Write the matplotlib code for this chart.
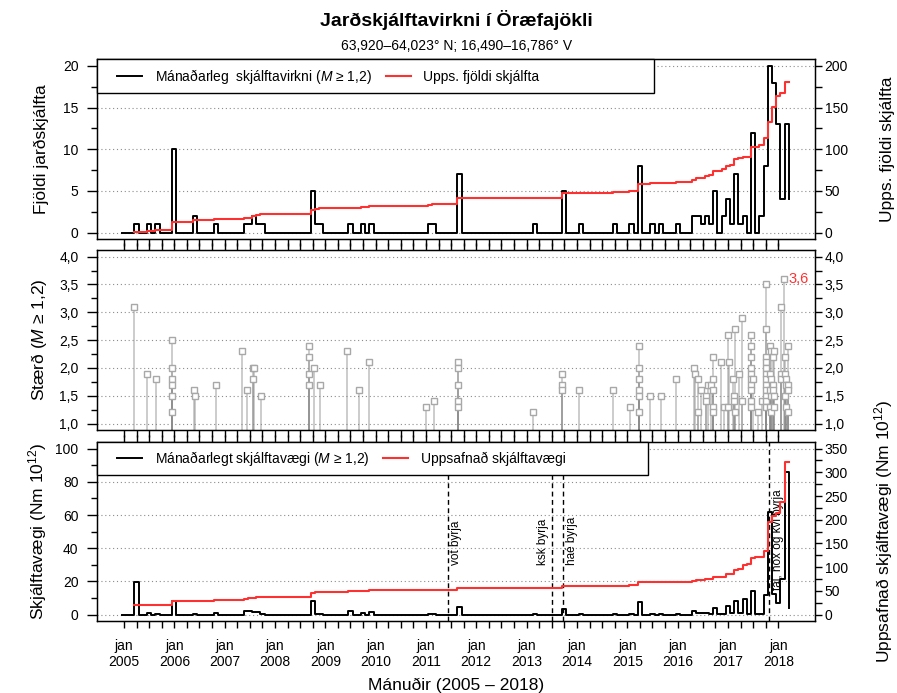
import numpy as np
import matplotlib.pyplot as plt
from matplotlib.patches import Rectangle
from matplotlib.lines import Line2D
from matplotlib.ticker import FixedLocator, FuncFormatter, MultipleLocator

plt.rcParams['font.family'] = ['Liberation Sans', 'DejaVu Sans']
plt.rcParams['mathtext.fontset'] = 'custom'
plt.rcParams['mathtext.rm'] = 'Liberation Sans'
plt.rcParams['mathtext.it'] = 'Liberation Sans:italic'
plt.rcParams['font.size'] = 10

# monthly number of earthquakes (M >= 1.2), jan 2005 - apr 2018
cnt_2005 = [0, 0, 0, 1, 0, 0, 1, 0, 1, 0, 0, 0]
cnt_2006 = [10, 0, 0, 0, 0, 2, 0, 0, 0, 0, 1, 0]
cnt_2007 = [0, 0, 0, 0, 0, 1, 1, 2, 1, 1, 0, 0]
cnt_2008 = [0, 0, 0, 0, 0, 0, 0, 0, 0, 5, 1, 1]
cnt_2009 = [0, 0, 0, 0, 0, 0, 1, 0, 0, 1, 0, 1]
cnt_2010 = [0, 0, 0, 0, 0, 0, 0, 0, 0, 0, 0, 0]
cnt_2011 = [0, 1, 1, 0, 0, 0, 0, 0, 7, 0, 0, 0]
cnt_2012 = [0, 0, 0, 0, 0, 0, 0, 0, 0, 0, 0, 0]
cnt_2013 = [0, 0, 1, 0, 0, 0, 0, 0, 0, 5, 0, 0]
cnt_2014 = [0, 1, 0, 0, 0, 0, 0, 0, 0, 1, 0, 0]
cnt_2015 = [0, 1, 0, 8, 0, 0, 1, 0, 1, 0, 0, 0]
cnt_2016 = [1, 0, 0, 0, 2, 2, 1, 2, 1, 5, 0, 2]
cnt_2017 = [4, 1, 7, 1, 2, 0, 12, 0, 2, 8, 20, 18]
cnt_2018 = [13, 4, 13, 4]

# monthly seismic moment (Nm 10^12)
mom_2005 = [0, 0, 0, 19.5, 0, 0, 1.0, 0, 0.6, 0, 0, 0]
mom_2006 = [8.0, 0, 0, 0, 0, 0.6, 0, 0, 0, 0, 0.8, 0]
mom_2007 = [0, 0, 0, 0, 0, 2.0, 2.0, 1.5, 1.6, 0.6, 0, 0]
mom_2008 = [0, 0, 0, 0, 0, 0, 0, 0, 0, 8.0, 0.6, 0.3]
mom_2009 = [0, 0, 0, 0, 0, 0, 2.0, 0, 0, 0.8, 0, 1.6]
mom_2010 = [0, 0, 0, 0, 0, 0, 0, 0, 0, 0, 0, 0]
mom_2011 = [0, 0.3, 0.3, 0, 0, 0, 0, 0, 4.8, 0, 0, 0]
mom_2012 = [0, 0, 0, 0, 0, 0, 0, 0, 0, 0, 0, 0]
mom_2013 = [0, 0, 0.3, 0, 0, 0, 0, 0, 0, 3.2, 0, 0]
mom_2014 = [0, 0.6, 0, 0, 0, 0, 0, 0, 0, 0.4, 0, 0]
mom_2015 = [0, 0.2, 0, 7.4, 0, 0, 0.3, 0, 0.3, 0, 0, 0]
mom_2016 = [0.3, 0, 0, 0, 2.0, 1.0, 1.0, 1.0, 0.6, 4.0, 0.4, 0.4]
mom_2017 = [5.4, 1.0, 8.5, 1.0, 9.5, 0.6, 14.0, 0.6, 0.6, 12.0, 62.0, 12.5]
mom_2018 = [7.0, 21.5, 86.0, 4.0]

# single events: time (decimal year) and magnitude
ev_time = [2005.19, 2005.46, 2005.63, 2005.95, 2005.95, 2005.95, 2005.95, 2005.95, 2005.95,
           2006.40, 2006.41, 2006.82,
           2007.34, 2007.44, 2007.56, 2007.57, 2007.59, 2007.72,
           2008.68, 2008.68, 2008.68, 2008.68, 2008.77, 2008.90,
           2009.44, 2009.67, 2009.87,
           2011.00, 2011.15, 2011.64, 2011.64, 2011.64, 2011.64, 2011.64,
           2013.12, 2013.70, 2013.70, 2013.70,
           2014.05, 2014.71,
           2015.05, 2015.23, 2015.23, 2015.23, 2015.23, 2015.23, 2015.23, 2015.45, 2015.66, 2015.97,
           2016.32, 2016.35, 2016.40, 2016.40, 2016.47, 2016.57, 2016.57, 2016.61, 2016.66,
           2016.71, 2016.71, 2016.71, 2016.71, 2016.71, 2016.86, 2016.93,
           2017.01, 2017.02, 2017.01, 2017.11, 2017.12, 2017.12, 2017.14, 2017.14, 2017.21,
           2017.27, 2017.28,
           2017.46, 2017.46, 2017.46, 2017.46, 2017.46, 2017.46, 2017.46, 2017.46, 2017.46, 2017.46,
           2017.50, 2017.60, 2017.67,
           2017.75, 2017.75, 2017.75, 2017.75, 2017.75, 2017.75, 2017.75,
           2017.76, 2017.76, 2017.76, 2017.76, 2017.76,
           2017.84, 2017.84, 2017.84, 2017.84, 2017.86, 2017.86, 2017.86, 2017.86,
           2017.89, 2017.89, 2017.89, 2017.92, 2017.92, 2017.92,
           2018.05, 2018.05, 2018.05, 2018.11, 2018.13, 2018.13, 2018.13,
           2018.16, 2018.16, 2018.16, 2018.19, 2018.19, 2018.19, 2018.19]
ev_mag = [3.1, 1.9, 1.8, 2.5, 2.0, 1.8, 1.7, 1.5, 1.2,
          1.6, 1.5, 1.7,
          2.3, 1.6, 1.8, 2.0, 2.0, 1.5,
          2.4, 2.2, 1.9, 1.7, 2.0, 1.7,
          2.3, 1.6, 2.1,
          1.3, 1.4, 2.1, 2.0, 1.7, 1.4, 1.3,
          1.2, 1.9, 1.7, 1.6,
          1.6, 1.6,
          1.3, 2.4, 2.0, 1.8, 1.6, 1.5, 1.2, 1.5, 1.5, 1.8,
          2.0, 1.9, 1.8, 1.2, 1.6, 1.5, 1.4, 1.7, 1.7,
          2.2, 1.8, 1.6, 1.3, 1.2, 2.1, 1.3,
          2.6, 2.1, 1.3, 1.8, 1.5, 1.4, 2.7, 1.2, 1.9,
          2.9, 1.4,
          2.6, 2.4, 2.2, 2.0, 1.9, 1.8, 1.7, 1.6, 1.4, 1.3,
          1.8, 1.2, 1.4,
          3.5, 2.7, 2.2, 2.1, 2.0, 1.9, 1.8,
          1.7, 1.6, 1.5, 1.4, 1.3,
          2.4, 1.9, 1.6, 1.3, 2.3, 1.8, 1.5, 1.2,
          2.2, 1.7, 1.6, 2.3, 1.5, 1.3,
          3.1, 1.9, 1.8, 3.6, 2.2, 1.9, 1.5,
          1.8, 1.7, 1.3, 2.4, 1.7, 1.6, 1.2]

# station start times
st_time = [2011.43, 2013.50, 2013.72, 2017.82]
st_text = ['vot byrja', 'ksk byrja', 'haé byrja', 'tal, hox og kvi byrja']

counts = np.array(cnt_2005 + cnt_2006 + cnt_2007 + cnt_2008 + cnt_2009 + cnt_2010 + cnt_2011
                  + cnt_2012 + cnt_2013 + cnt_2014 + cnt_2015 + cnt_2016 + cnt_2017 + cnt_2018, float)
moment = np.array(mom_2005 + mom_2006 + mom_2007 + mom_2008 + mom_2009 + mom_2010 + mom_2011
                  + mom_2012 + mom_2013 + mom_2014 + mom_2015 + mom_2016 + mom_2017 + mom_2018)
years = np.arange(2005, 2019)

n = len(counts)
xs = 2005 + (np.arange(n) - 0.5) / 12


def cumulative(vals):
    c = np.cumsum(vals)
    i0 = np.nonzero(vals)[0][0]
    return np.append(xs[i0:n - 1], xs[n - 1]), np.append(c[i0:n - 1], c[n - 2])


def comma(fmt):
    return FuncFormatter(lambda v, p: (fmt % v).replace('.', ','))


RED = '#ff3030'
GRID = dict(axis='y', linestyle=(0, (1, 2.5)), color='#8c8c8c', linewidth=0.8)

fig = plt.figure(figsize=(8.97, 6.93), dpi=100)
L, W = 0.1085, 0.8001
ax1 = fig.add_axes([L, 0.6547, W, 0.2597])
ax2 = fig.add_axes([L, 0.3791, W, 0.2602])
ax3 = fig.add_axes([L, 0.1039, W, 0.2579])

for ax in (ax1, ax2, ax3):
    ax.set_xlim(2004.47, 2018.73)
    ax.set_xticks(years)
    ax.xaxis.set_minor_locator(FixedLocator([2005 + k / 4 for k in range(53) if k % 4]))
    ax.tick_params(axis='x', which='both', direction='out', length=5, width=1)
    ax.tick_params(axis='y', which='major', length=7.5, width=1, pad=6, labelsize=10)
    ax.tick_params(axis='y', which='minor', length=4.5, width=1)
    for s in ax.spines.values():
        s.set_linewidth(1)


def right_ticks(ax):
    ax.tick_params(axis='y', which='major', length=5, width=1, pad=2, labelsize=10)
    ax.tick_params(axis='y', which='minor', length=5, width=1)


# --- top: number of earthquakes
ax1.plot(xs, counts, drawstyle='steps-post', color='black', lw=1.4)
ax1.set_ylim(-0.8, 20.8)
ax1.yaxis.set_major_locator(MultipleLocator(5))
ax1.yaxis.set_minor_locator(MultipleLocator(2.5))
ax1.grid(**GRID)
ax1.tick_params(axis='x', which='both', labelbottom=False)
ax1.set_ylabel('Fjöldi jarðskjálfta', fontsize=12.5)
ax1.yaxis.set_label_coords(-0.068, 0.5)

ax1b = ax1.twinx()
rx, ry = cumulative(counts)
ax1b.plot(rx, ry, drawstyle='steps-post', color=RED, lw=1.5)
ax1b.set_ylim(-8, 208)
ax1b.yaxis.set_major_locator(MultipleLocator(50))
ax1b.yaxis.set_minor_locator(MultipleLocator(25))
right_ticks(ax1b)
ax1b.set_ylabel('Upps. fjöldi skjálfta', fontsize=12.5)
ax1b.yaxis.set_label_coords(1.09, 0.5)
ax1b.add_patch(Rectangle((0, 1 - 0.1856), 0.776, 0.1856, transform=ax1b.transAxes,
                         facecolor='white', edgecolor='black', lw=1, zorder=4, clip_on=False))
ax1b.legend([Line2D([], [], color='black', lw=1.4), Line2D([], [], color=RED, lw=1.5)],
            ['Mánaðarleg  skjálftavirkni ($M$ ≥ 1,2)', 'Upps. fjöldi skjálfta'],
            loc='center left', bbox_to_anchor=(0.02, 1 - 0.0928), ncol=2, frameon=False,
            borderaxespad=0, borderpad=0.4, handlelength=1.8, handletextpad=0.9,
            columnspacing=1.0, fontsize=10)

# --- middle: magnitudes
ax2.vlines(ev_time, 0.88, ev_mag, colors='#8a8a8a', alpha=0.5, lw=1.2)
ax2.plot(ev_time, ev_mag, 's', ms=4.5, mfc='white', mec='#a8a8a8', mew=1)
imax = int(np.argmax(ev_mag))
ax2.annotate(('%.1f' % ev_mag[imax]).replace('.', ','), (ev_time[imax], ev_mag[imax]),
             xytext=(3, 0), textcoords='offset points', color=RED, va='center', fontsize=10.5)
ax2.set_ylim(0.88, 4.12)
ax2.yaxis.set_major_locator(MultipleLocator(0.5))
ax2.yaxis.set_minor_locator(MultipleLocator(0.25))
ax2.yaxis.set_major_formatter(comma('%.1f'))
ax2.grid(**GRID)
ax2.tick_params(axis='x', which='both', top=True, labelbottom=False)
ax2.set_ylabel('Stærð ($M$ ≥ 1,2)', fontsize=12.5)
ax2.yaxis.set_label_coords(-0.068, 0.5)

ax2b = ax2.twinx()
ax2b.set_ylim(ax2.get_ylim())
ax2b.yaxis.set_major_locator(MultipleLocator(0.5))
ax2b.yaxis.set_minor_locator(MultipleLocator(0.25))
ax2b.yaxis.set_major_formatter(comma('%.1f'))
right_ticks(ax2b)

# --- bottom: seismic moment
ax3.plot(xs, moment, drawstyle='steps-post', color='black', lw=1.4)
for t, s in zip(st_time, st_text):
    ax3.axvline(t, color='black', lw=1, linestyle=(0, (3.5, 2.5)))
    left = s.startswith('ksk')
    ax3.annotate(s, (t, 30 if not s.startswith('tal') else 15), xytext=(-2 if left else 2, 0),
                 textcoords='offset points', rotation=90, ha='right' if left else 'left',
                 va='bottom', fontsize=8.5)
ax3.set_ylim(-3.8, 103.8)
ax3.yaxis.set_major_locator(MultipleLocator(20))
ax3.yaxis.set_minor_locator(MultipleLocator(10))
ax3.grid(**GRID)
ax3.tick_params(axis='x', which='both', top=True, labelbottom=True, labelsize=10, pad=8)
ax3.set_xticklabels([f'jan\n{y}' for y in years])
ax3.set_ylabel('Skjálftavægi (Nm $10^{12}$)', fontsize=12.5)
ax3.yaxis.set_label_coords(-0.068, 0.5)

ax3b = ax3.twinx()
rx, ry = cumulative(moment)
ax3b.plot(rx, ry, drawstyle='steps-post', color=RED, lw=1.5)
ax3b.set_ylim(-3.8 * 3.5, 103.8 * 3.5)
ax3b.yaxis.set_major_locator(MultipleLocator(50))
ax3b.yaxis.set_minor_locator(MultipleLocator(25))
right_ticks(ax3b)
ax3b.set_ylabel('Uppsafnað skjálftavægi (Nm $10^{12}$)', fontsize=12.5)
ax3b.yaxis.set_label_coords(1.08, 0.5)
ax3b.add_patch(Rectangle((0, 1 - 0.183), 0.767, 0.183, transform=ax3b.transAxes,
                         facecolor='white', edgecolor='black', lw=1, zorder=4, clip_on=False))
ax3b.legend([Line2D([], [], color='black', lw=1.4), Line2D([], [], color=RED, lw=1.5)],
            ['Mánaðarlegt skjálftavægi ($M$ ≥ 1,2)', 'Uppsafnað skjálftavægi'],
            loc='center left', bbox_to_anchor=(0.02, 1 - 0.0915), ncol=2, frameon=False,
            borderaxespad=0, borderpad=0.4, handlelength=1.8, handletextpad=0.9,
            columnspacing=1.0, fontsize=10)

fig.text(0.5086, 0.971, 'Jarðskjálftavirkni í Öræfajökli', ha='center', va='center',
         fontsize=14, fontweight='bold')
fig.text(0.5086, 0.934, '63,920–64,023° N; 16,490–16,786° V', ha='center', va='center', fontsize=10)
fig.text(0.5086, 0.0115, 'Mánuðir (2005 – 2018)', ha='center', va='center', fontsize=12.5)

fig.savefig('out.png', dpi=100)
